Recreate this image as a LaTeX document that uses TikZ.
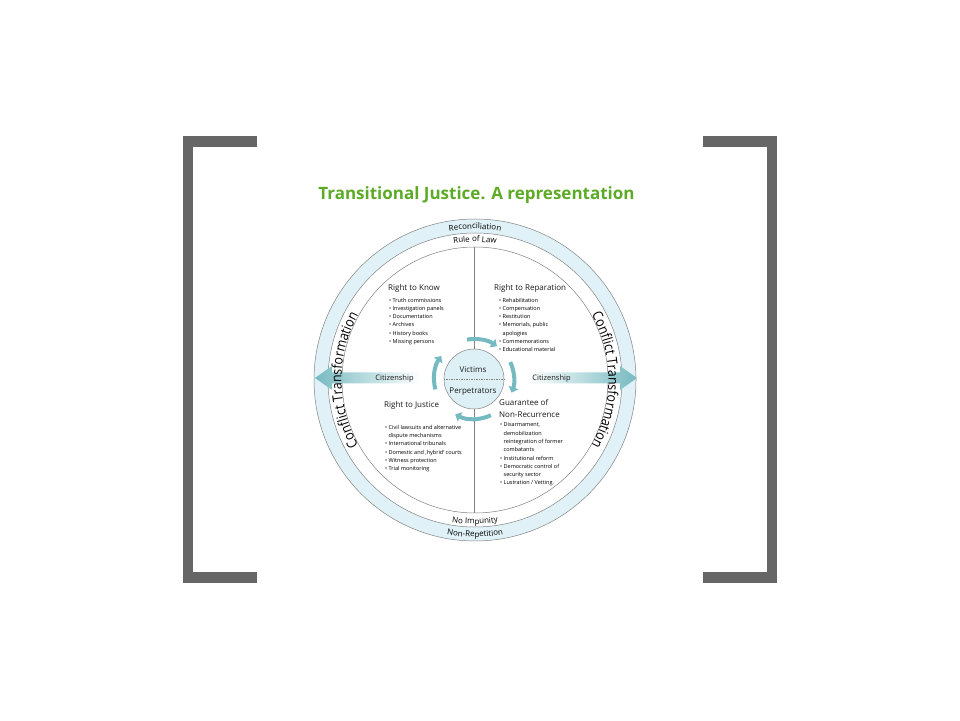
\documentclass[tikz,border=0pt]{standalone}
\usepackage{fontspec}
\setmainfont{Open Sans}
\newfontfamily\condfont[FakeStretch=0.88]{Open Sans}
\usetikzlibrary{positioning,decorations.text,arrows.meta}
\definecolor{tjgreen}{RGB}{92,170,38}
\definecolor{ringblue}{RGB}{224,242,247}
\definecolor{circblue}{RGB}{221,240,245}
\definecolor{arrteal}{RGB}{118,186,193}
\definecolor{linegray}{RGB}{130,130,130}
\definecolor{brackgray}{RGB}{102,102,102}
\newcommand\ringfont{\fontsize{8}{8}\selectfont}
\newcommand\ctfont{\condfont\fontsize{14}{14}\selectfont}
\begin{document}
\begin{tikzpicture}[x=1pt,y=1pt,every node/.style={inner sep=0pt,text=black!90},
  head/.style={font=\fontsize{8}{12}\selectfont,align=left},
  items/.style={font=\fontsize{5.5}{8.3}\selectfont,align=left,text=black},
  swoosh/.style={arrteal,line width=4pt,-{Triangle[length=5.5pt,width=10pt]}},
  ringtext/.style={decorate,decoration={text along path,text align=center,text={#1}}}]
\useasboundingbox (0,0) rectangle (960,720);
\draw[brackgray,line width=10.8pt] (257,578.5) -- (188,578.5) -- (188,142.5) -- (257,142.5);
\draw[brackgray,line width=10.8pt] (703,578.5) -- (772,578.5) -- (772,142.5) -- (703,142.5);
\node[font=\bfseries\fontsize{17}{17}\selectfont,text=tjgreen] (title) at (476.5,525) {Transitional Justice. A representation};
\coordinate (c) at (475,340);
\fill[ringblue,draw=linegray,line width=0.5pt] (c) circle[radius=161];
\draw[linegray,fill=white,line width=0.5pt] (c) circle[radius=147];
\draw[linegray,line width=0.5pt] (c) circle[radius=133];
\shade[left color=arrteal,right color=white] (315,342) -- (332,354) -- (332,347.5) -- (420,347.5) -- (420,336.5) -- (332,336.5) -- (332,330) -- cycle;
\shade[left color=white,right color=arrteal] (527,347.5) -- (620,347.5) -- (620,354) -- (637,342) -- (620,330) -- (620,336.5) -- (527,336.5) -- cycle;
\path[ringtext={|\ringfont|Reconciliation}] (c) ++(150:151) arc[start angle=150,end angle=30,radius=151];
\path[ringtext={|\ringfont|Rule of Law}] (c) ++(150:138) arc[start angle=150,end angle=30,radius=138];
\path[ringtext={|\ringfont|No Impunity}] (c) ++(210:144) arc[start angle=210,end angle=330,radius=144];
\path[ringtext={|\ringfont|Non-Repetition}] (c) ++(210:157) arc[start angle=210,end angle=330,radius=157];
\path[ringtext={|\ctfont|Conflict Transformation}] (c) ++(240:133.5) arc[start angle=240,end angle=120,radius=133.5];
\path[ringtext={|\ctfont|Conflict Transformation}] (c) ++(60:133.5) arc[start angle=60,end angle=-60,radius=133.5];
\coordinate (top) at (474,473);
\coordinate (bot) at (474,207);
\node[circle,draw=linegray,fill=circblue,line width=0.5pt,minimum size=60pt] (vc) at (474,341) {};
\draw[linegray,line width=0.5pt] (top) -- (vc.north);
\draw[linegray,line width=0.5pt] (vc.south) -- (bot);
\draw[linegray,line width=0.5pt,dash pattern=on 1.5pt off 1pt] (vc.west) -- (vc.east);
\node[font=\fontsize{8}{8}\selectfont] (victims) at (473,350) {Victims};
\node[font=\fontsize{8}{8}\selectfont] (perp) at (473,328) {Perpetrators};
\draw[swoosh] (vc.center) ++(100:40) arc[start angle=100,end angle=55,radius=40];
\draw[swoosh] (vc.center) ++(25:40) arc[start angle=25,end angle=-20,radius=40];
\draw[swoosh] (vc.center) ++(-65:40) arc[start angle=-65,end angle=-118,radius=40];
\draw[swoosh] (vc.center) ++(195:40) arc[start angle=195,end angle=145,radius=40];
\node[font=\fontsize{7.5}{7.5}\selectfont] (citl) at (394.5,341.5) {Citizenship};
\node[font=\fontsize{7.5}{7.5}\selectfont] (citr) at (551.5,341.5) {Citizenship};
\node[head,anchor=base west] (know) at (388,429) {Right to Know};
\node[items,below=4.6pt of know.south west,anchor=north west,xshift=1pt] (knowlist) {• Truth commissions\\• Investigation panels\\• Documentation\\• Archives\\• History books\\• Missing persons};
\node[head,anchor=base west] (repar) at (494,429) {Right to Reparation};
\node[items,below=4.6pt of repar.south west,anchor=north west,xshift=5pt] (reparlist) {• Rehabilitation\\• Compensation\\• Restitution\\• Memorials, public\\\phantom{• }apologies\\• Commemorations\\• Educational material};
\node[head,anchor=base west] (justice) at (384,312) {Right to Justice};
\node[items,below=14.7pt of justice.south west,anchor=north west,xshift=1pt] (justicelist) {• Civil lawsuits and alternative\\\phantom{• }dispute mechanisms\\• International tribunals\\• Domestic and ‚hybrid‘ courts\\• Witness protection\\• Trial monitoring};
\node[head,anchor=north west] (guar) at (499,321) {Guarantee of\\Non-Recurrence};
\node[items,below=5pt of guar.south west,anchor=north west,xshift=1pt] (guarlist) {• Disarmament,\\\phantom{• }demobilization\\\phantom{• }reintegration of former\\\phantom{• }combatants\\• Institutional reform\\• Democratic control of\\\phantom{• }security sector\\• Lustration / Vetting.};
\end{tikzpicture}
\end{document}
